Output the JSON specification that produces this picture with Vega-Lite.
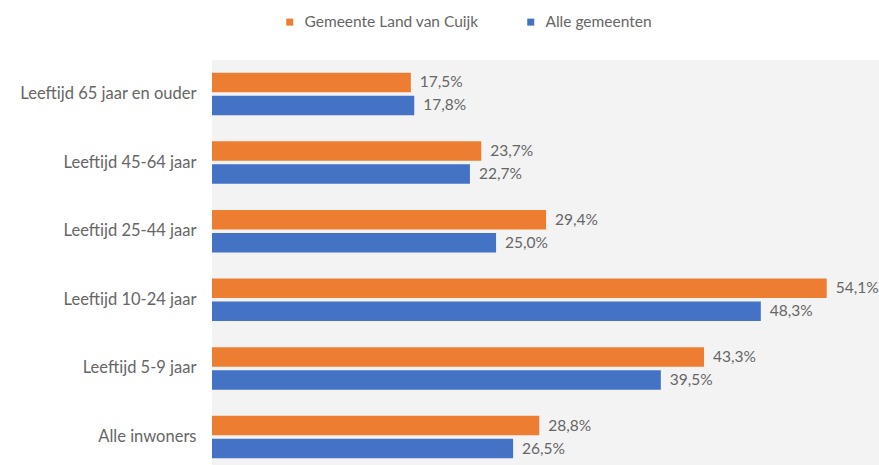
{
  "$schema": "https://vega.github.io/schema/vega-lite/v6.json",
  "width": 667,
  "height": 411,
  "autosize": "none",
  "padding": {"left": 212, "top": 60, "right": 0, "bottom": 0},
  "background": "white",
  "config": {
    "view": {"fill": "#f3f3f3", "stroke": null},
    "font": "Lato"
  },
  "data": {
    "values": [
      {"cat": "Leeftijd 65 jaar en ouder", "series": "Gemeente Land van Cuijk", "value": 17.5, "label": "17,5%"},
      {"cat": "Leeftijd 65 jaar en ouder", "series": "Alle gemeenten", "value": 17.8, "label": "17,8%"},
      {"cat": "Leeftijd 45-64 jaar", "series": "Gemeente Land van Cuijk", "value": 23.7, "label": "23,7%"},
      {"cat": "Leeftijd 45-64 jaar", "series": "Alle gemeenten", "value": 22.7, "label": "22,7%"},
      {"cat": "Leeftijd 25-44 jaar", "series": "Gemeente Land van Cuijk", "value": 29.4, "label": "29,4%"},
      {"cat": "Leeftijd 25-44 jaar", "series": "Alle gemeenten", "value": 25.0, "label": "25,0%"},
      {"cat": "Leeftijd 10-24 jaar", "series": "Gemeente Land van Cuijk", "value": 54.1, "label": "54,1%"},
      {"cat": "Leeftijd 10-24 jaar", "series": "Alle gemeenten", "value": 48.3, "label": "48,3%"},
      {"cat": "Leeftijd 5-9 jaar", "series": "Gemeente Land van Cuijk", "value": 43.3, "label": "43,3%"},
      {"cat": "Leeftijd 5-9 jaar", "series": "Alle gemeenten", "value": 39.5, "label": "39,5%"},
      {"cat": "Alle inwoners", "series": "Gemeente Land van Cuijk", "value": 28.8, "label": "28,8%"},
      {"cat": "Alle inwoners", "series": "Alle gemeenten", "value": 26.5, "label": "26,5%"}
    ]
  },
  "encoding": {
    "y": {
      "field": "cat",
      "type": "nominal",
      "sort": null,
      "scale": {"paddingInner": 0.38, "paddingOuter": 0.185},
      "axis": {
        "title": null,
        "domain": false,
        "ticks": false,
        "labelPadding": 16,
        "labelFontSize": 16.5,
        "labelColor": "#666666",
        "labelLimit": 240
      }
    },
    "yOffset": {
      "field": "series",
      "type": "nominal",
      "sort": ["Gemeente Land van Cuijk", "Alle gemeenten"],
      "scale": {"paddingInner": 0.15}
    },
    "x": {
      "field": "value",
      "type": "quantitative",
      "scale": {"domain": [0, 58.7], "nice": false, "zero": true},
      "axis": null
    }
  },
  "layer": [
    {
      "mark": {"type": "bar"},
      "encoding": {
        "color": {
          "field": "series",
          "type": "nominal",
          "scale": {
            "domain": ["Gemeente Land van Cuijk", "Alle gemeenten"],
            "range": ["#ED7D31", "#4472C4"]
          },
          "legend": {
            "title": null,
            "orient": "none",
            "direction": "horizontal",
            "legendX": 70,
            "legendY": -46,
            "symbolType": "square",
            "symbolSize": 49,
            "labelFontSize": 15.5,
            "labelColor": "#666666",
            "labelLimit": 300,
            "columnPadding": 44,
            "labelOffset": 7
          }
        }
      }
    },
    {
      "mark": {"type": "text", "align": "left", "baseline": "middle", "dx": 9, "fontSize": 15.5, "color": "#666666"},
      "encoding": {
        "text": {"field": "label"}
      }
    }
  ]
}
